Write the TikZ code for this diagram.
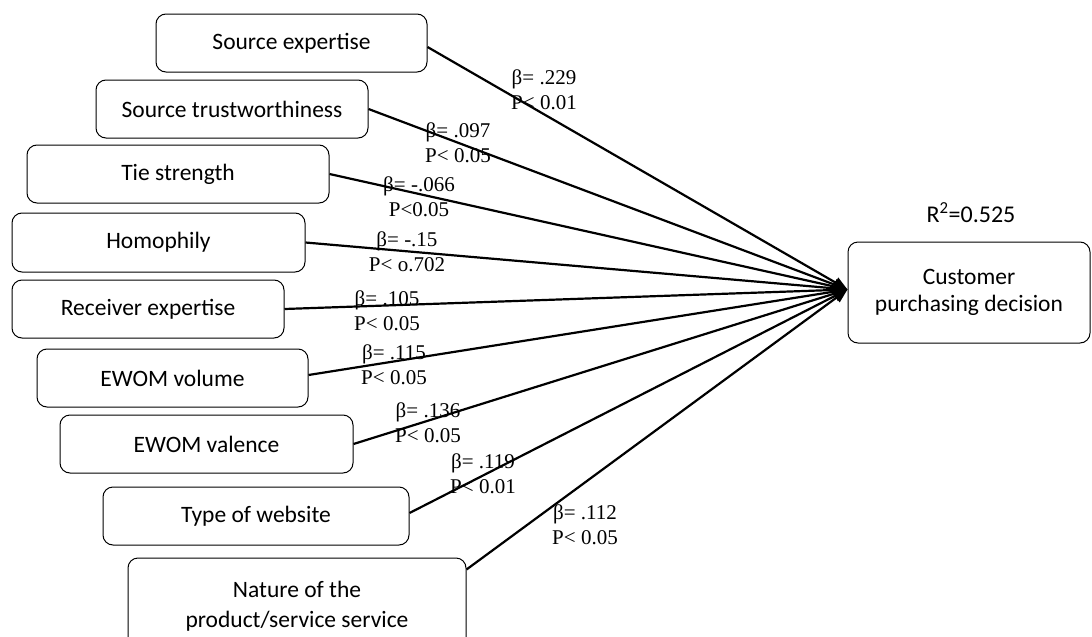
\documentclass[tikz,border=0pt]{standalone}
\usepackage{fontspec}
\setmainfont{Carlito}
\newfontfamily\tnr{Liberation Serif}
\usetikzlibrary{arrows.meta,calc}
\begin{document}
\begin{tikzpicture}[x=1pt,y=-1pt,
  box/.style={draw=black, line width=1pt, rounded corners=10pt, inner sep=0pt, align=center, font=\fontsize{23.5}{28}\selectfont},
  lbl/.style={inner sep=0pt, align=center, font=\tnr\fontsize{21}{25}\selectfont},
  link/.style={line width=2.2pt, -{Triangle[length=14pt,width=11pt]}}
]
\useasboundingbox (0,0) rectangle (1092,637);
\node[box, minimum width=271pt, minimum height=58pt] (b1) at (291.5,43) {Source expertise};
\node[box, minimum width=272pt, minimum height=58pt] (b2) at (232,109) {Source trustworthiness};
\node[box, minimum width=302pt, minimum height=58pt] (b3) at (178,174) {Tie strength};
\node[box, minimum width=293pt, minimum height=59pt] (b4) at (158.5,242.5) {Homophily};
\node[box, minimum width=272pt, minimum height=58pt] (b5) at (148,309) {Receiver expertise};
\node[box, minimum width=271pt, minimum height=58pt] (b6) at (172.5,378) {EWOM volume};
\node[box, minimum width=293pt, minimum height=58pt] (b7) at (206.5,444) {EWOM valence};
\node[box, minimum width=306pt, minimum height=58pt] (b8) at (256,516) {Type of website};
\node[box, minimum width=338pt, minimum height=96pt, font=\fontsize{23.5}{30}\selectfont] (b9) at (297,606) {Nature of the\\product/service service};
\node[box, minimum width=242pt, minimum height=101pt, font=\fontsize{23.5}{27}\selectfont] (t) at (969,292.5) {Customer\\purchasing decision};
\node[font=\fontsize{24}{28}\selectfont, inner sep=0pt] (r2) at (971,213) {R\textsuperscript{2}=0.525};

\coordinate (tip) at ($(t.west)+(0,-3)$);
\draw[link] ($(b1.east)+(0,4)$) -- (tip);
\draw[link] (b2.east) -- (tip);
\draw[link] (b3.east) -- (tip);
\draw[link] (b4.east) -- (tip);
\draw[link] (b5.east) -- (tip);
\draw[link] ($(b6.east)+(0,-3)$) -- (tip);
\draw[link] (b7.east) -- (tip);
\draw[link] ($(b8.east)+(0,-3)$) -- (tip);
\draw[link] ($(b9.north east)+(0,12)$) -- (tip);

\node[lbl] (l1) at (544,89.5) {β= .229\\P< 0.01};
\node[lbl] (l2) at (458,142.5) {β= .097\\P< 0.05};
\node[lbl] (l3) at (419,196.5) {β= -.066\\P<0.05};
\node[lbl] (l4) at (407,252) {β= -.15\\P< o.702};
\node[lbl] (l5) at (387,310.5) {β= .105\\P< 0.05};
\node[lbl] (l6) at (394,364.5) {β= .115\\P< 0.05};
\node[lbl] (l7) at (428,423) {β= .136\\P< 0.05};
\node[lbl] (l8) at (483,473.5) {β= .119\\P< 0.01};
\node[lbl] (l9) at (585,525) {β= .112\\P< 0.05};
\end{tikzpicture}
\end{document}
